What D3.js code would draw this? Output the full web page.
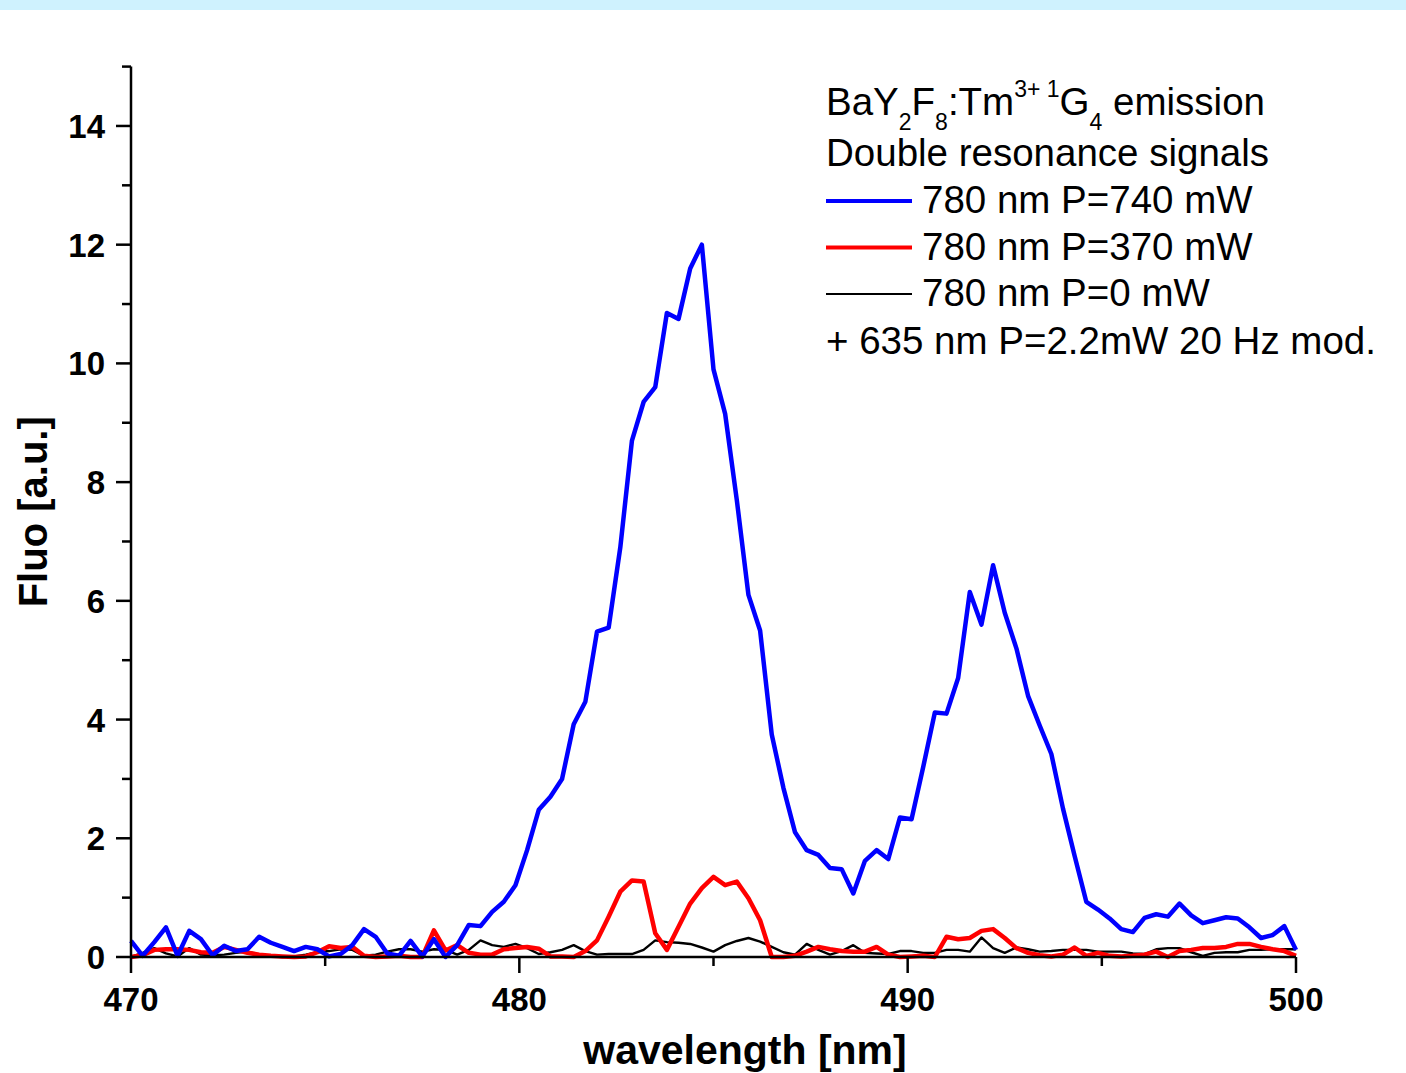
<!DOCTYPE html>
<html>
<head>
<meta charset="utf-8">
<script src="https://cdn.jsdelivr.net/npm/d3@7"></script>
<style>
  body { margin: 0; background: #fff; }
  svg { display: block; font-family: "Liberation Sans", Arial, sans-serif; }
</style>
</head>
<body>
<svg id="chart" width="1406" height="1073"></svg>
<script>
// wavelength grid, nm (0.3 nm steps)
var wavelength = [
  470.0, 470.3, 470.6, 470.9, 471.2, 471.5, 471.8, 472.1, 472.4, 472.7,
  473.0, 473.3, 473.6, 473.9, 474.2, 474.5, 474.8, 475.1, 475.4, 475.7,
  476.0, 476.3, 476.6, 476.9, 477.2, 477.5, 477.8, 478.1, 478.4, 478.7,
  479.0, 479.3, 479.6, 479.9, 480.2, 480.5, 480.8, 481.1, 481.4, 481.7,
  482.0, 482.3, 482.6, 482.9, 483.2, 483.5, 483.8, 484.1, 484.4, 484.7,
  485.0, 485.3, 485.6, 485.9, 486.2, 486.5, 486.8, 487.1, 487.4, 487.7,
  488.0, 488.3, 488.6, 488.9, 489.2, 489.5, 489.8, 490.1, 490.4, 490.7,
  491.0, 491.3, 491.6, 491.9, 492.2, 492.5, 492.8, 493.1, 493.4, 493.7,
  494.0, 494.3, 494.6, 494.9, 495.2, 495.5, 495.8, 496.1, 496.4, 496.7,
  497.0, 497.3, 497.6, 497.9, 498.2, 498.5, 498.8, 499.1, 499.4, 499.7,
  500.0
];

// 780 nm P=740 mW
var fluo740 = [
  0.27, 0.02, 0.25, 0.50, 0.02, 0.44, 0.30, 0.03, 0.19, 0.10,
  0.13, 0.34, 0.24, 0.17, 0.10, 0.17, 0.13, 0.01, 0.05, 0.20,
  0.47, 0.34, 0.06, 0.02, 0.27, 0.01, 0.30, 0.00, 0.20, 0.54,
  0.52, 0.76, 0.93, 1.21, 1.80, 2.48, 2.70, 3.00, 3.92, 4.30,
  5.48, 5.55, 6.90, 8.70, 9.35, 9.60, 10.85, 10.75, 11.60, 12.00,
  9.90, 9.15, 7.70, 6.10, 5.50, 3.75, 2.85, 2.10, 1.80, 1.72,
  1.50, 1.48, 1.07, 1.62, 1.80, 1.65, 2.35, 2.32, 3.20, 4.12,
  4.10, 4.70, 6.15, 5.60, 6.60, 5.80, 5.20, 4.40, 3.90, 3.42,
  2.50, 1.70, 0.93, 0.80, 0.65, 0.47, 0.42, 0.66, 0.72, 0.68,
  0.90, 0.70, 0.57, 0.62, 0.67, 0.65, 0.50, 0.32, 0.37, 0.52,
  0.12
];

// 780 nm P=370 mW
var fluo370 = [
  0.00, 0.03, 0.12, 0.13, 0.13, 0.12, 0.08, 0.07, 0.17, 0.12,
  0.07, 0.04, 0.02, 0.01, 0.00, 0.01, 0.08, 0.18, 0.15, 0.17,
  0.02, 0.00, 0.01, 0.02, 0.00, 0.00, 0.45, 0.11, 0.20, 0.07,
  0.04, 0.04, 0.13, 0.15, 0.17, 0.14, 0.01, 0.01, 0.00, 0.10,
  0.28, 0.68, 1.10, 1.29, 1.27, 0.40, 0.12, 0.51, 0.90, 1.16,
  1.35, 1.21, 1.27, 0.99, 0.62, 0.00, 0.00, 0.02, 0.09, 0.17,
  0.13, 0.10, 0.09, 0.09, 0.17, 0.04, 0.00, 0.01, 0.02, 0.00,
  0.34, 0.30, 0.32, 0.44, 0.47, 0.32, 0.15, 0.07, 0.03, 0.01,
  0.04, 0.16, 0.02, 0.07, 0.02, 0.01, 0.02, 0.04, 0.09, 0.00,
  0.10, 0.12, 0.15, 0.15, 0.17, 0.22, 0.22, 0.17, 0.13, 0.10,
  0.02
];

// 780 nm P=0 mW
var fluo0 = [
  0.00, 0.07, 0.15, 0.06, 0.01, 0.15, 0.04, 0.03, 0.04, 0.07,
  0.09, 0.04, 0.01, 0.00, 0.01, 0.04, 0.08, 0.10, 0.13, 0.12,
  0.02, 0.04, 0.09, 0.13, 0.13, 0.09, 0.13, 0.12, 0.04, 0.12,
  0.28, 0.20, 0.17, 0.22, 0.15, 0.05, 0.08, 0.12, 0.20, 0.10,
  0.04, 0.05, 0.05, 0.05, 0.12, 0.28, 0.25, 0.24, 0.22, 0.16,
  0.09, 0.20, 0.27, 0.32, 0.26, 0.17, 0.08, 0.04, 0.22, 0.12,
  0.04, 0.10, 0.20, 0.07, 0.06, 0.05, 0.10, 0.10, 0.07, 0.07,
  0.12, 0.12, 0.09, 0.33, 0.15, 0.07, 0.16, 0.13, 0.09, 0.10,
  0.12, 0.12, 0.12, 0.09, 0.09, 0.09, 0.06, 0.05, 0.13, 0.15,
  0.15, 0.08, 0.02, 0.07, 0.08, 0.08, 0.12, 0.12, 0.13, 0.13,
  0.13
];

var xTicks = [470, 480, 490, 500];
var xMinor = [475, 485, 495];
var yTicks = [0, 2, 4, 6, 8, 10, 12, 14];
var yMinor = [1, 3, 5, 7, 9, 11, 13, 15];

var seriesNames = ["780 nm P=740 mW", "780 nm P=370 mW", "780 nm P=0 mW"];
var seriesValues = [fluo740, fluo370, fluo0];
var seriesColors = ["#0000ff", "#ff0000", "#000000"];
var seriesWidths = [4.5, 4.5, 2.4];

var svg = d3.select("#chart");

// pale band across the top
svg.append("rect")
    .attr("x", 0).attr("y", 0)
    .attr("width", 1406).attr("height", 10)
    .attr("fill", "#cff2fe");

var x = d3.scaleLinear().domain([470, 500]).range([131, 1296]);
var y = d3.scaleLinear().domain([0, 15]).range([957, 66.6]);

// Draw the series, black first so coloured lines sit above it
var line = d3.line()
    .x(function (d, i) { return x(wavelength[i]); })
    .y(function (d) { return y(d); });

[2, 1, 0].forEach(function (k) {
    svg.append("path")
        .datum(seriesValues[k])
        .attr("d", line)
        .attr("fill", "none")
        .attr("stroke", seriesColors[k])
        .attr("stroke-width", seriesWidths[k])
        .attr("stroke-linejoin", "round");
});

// X axis
var xAxis = svg.append("g").attr("transform", "translate(0,957)");
xAxis.append("line")
    .attr("x1", x(470)).attr("x2", x(500))
    .attr("stroke", "#000").attr("stroke-width", 2.5);
xAxis.selectAll(".xmaj").data(xTicks).enter().append("line")
    .attr("x1", function (d) { return x(d); })
    .attr("x2", function (d) { return x(d); })
    .attr("y1", 0).attr("y2", 16)
    .attr("stroke", "#000").attr("stroke-width", 2.5);
xAxis.selectAll(".xmin").data(xMinor).enter().append("line")
    .attr("x1", function (d) { return x(d); })
    .attr("x2", function (d) { return x(d); })
    .attr("y1", 0).attr("y2", 9)
    .attr("stroke", "#000").attr("stroke-width", 2.5);
xAxis.selectAll("text").data(xTicks).enter().append("text")
    .attr("x", function (d) { return x(d); })
    .attr("y", 54)
    .attr("text-anchor", "middle")
    .style("font-size", "33px")
    .style("font-weight", "bold")
    .text(function (d) { return d; });

// Y axis
var yAxis = svg.append("g").attr("transform", "translate(131,0)");
yAxis.append("line")
    .attr("y1", y(0)).attr("y2", y(15))
    .attr("stroke", "#000").attr("stroke-width", 2.5);
yAxis.selectAll(".ymaj").data(yTicks).enter().append("line")
    .attr("y1", function (d) { return y(d); })
    .attr("y2", function (d) { return y(d); })
    .attr("x1", 0).attr("x2", -15)
    .attr("stroke", "#000").attr("stroke-width", 2.5);
yAxis.selectAll(".ymin").data(yMinor).enter().append("line")
    .attr("y1", function (d) { return y(d); })
    .attr("y2", function (d) { return y(d); })
    .attr("x1", 0).attr("x2", -9)
    .attr("stroke", "#000").attr("stroke-width", 2.5);
yAxis.selectAll("text").data(yTicks).enter().append("text")
    .attr("x", -26)
    .attr("y", function (d) { return y(d) + 12; })
    .attr("text-anchor", "end")
    .style("font-size", "33px")
    .style("font-weight", "bold")
    .text(function (d) { return d; });

// Axis titles
svg.append("text")
    .attr("x", 745).attr("y", 1064)
    .attr("text-anchor", "middle")
    .style("font-size", "41px")
    .style("font-weight", "bold")
    .text("wavelength [nm]");

svg.append("text")
    .attr("transform", "translate(47," + y(7.5) + ") rotate(-90)")
    .attr("text-anchor", "middle")
    .style("font-size", "40px")
    .style("font-weight", "bold")
    .text("Fluo [a.u.]");

// Legend block
var legend = svg.append("g").style("font-size", "38.5px");

var title = legend.append("text").attr("x", 826).attr("y", 115);
title.append("tspan").text("BaY");
title.append("tspan").attr("dy", 15).style("font-size", "23px").text("2");
title.append("tspan").attr("dy", -15).text("F");
title.append("tspan").attr("dy", 15).style("font-size", "23px").text("8");
title.append("tspan").attr("dy", -15).text(":Tm");
title.append("tspan").attr("dy", -18).style("font-size", "23px").text("3+ 1");
title.append("tspan").attr("dy", 18).text("G");
title.append("tspan").attr("dy", 15).style("font-size", "23px").text("4");
title.append("tspan").attr("dy", -15).text(" emission");

legend.append("text").attr("x", 826).attr("y", 166).text("Double resonance signals");

var entries = legend.selectAll(".entry").data(seriesNames).enter().append("g")
    .attr("transform", function (d, i) { return "translate(0," + (213 + i * 46.5) + ")"; });
entries.append("line")
    .attr("x1", 826).attr("x2", 912)
    .attr("y1", -12).attr("y2", -12)
    .attr("stroke", function (d, i) { return seriesColors[i]; })
    .attr("stroke-width", function (d, i) { return seriesWidths[i] - 0.5; });
entries.append("text")
    .attr("x", 922).attr("y", 0)
    .text(function (d) { return d; });

legend.append("text").attr("x", 826).attr("y", 354).text("+ 635 nm P=2.2mW 20 Hz mod.");
</script>
</body>
</html>
